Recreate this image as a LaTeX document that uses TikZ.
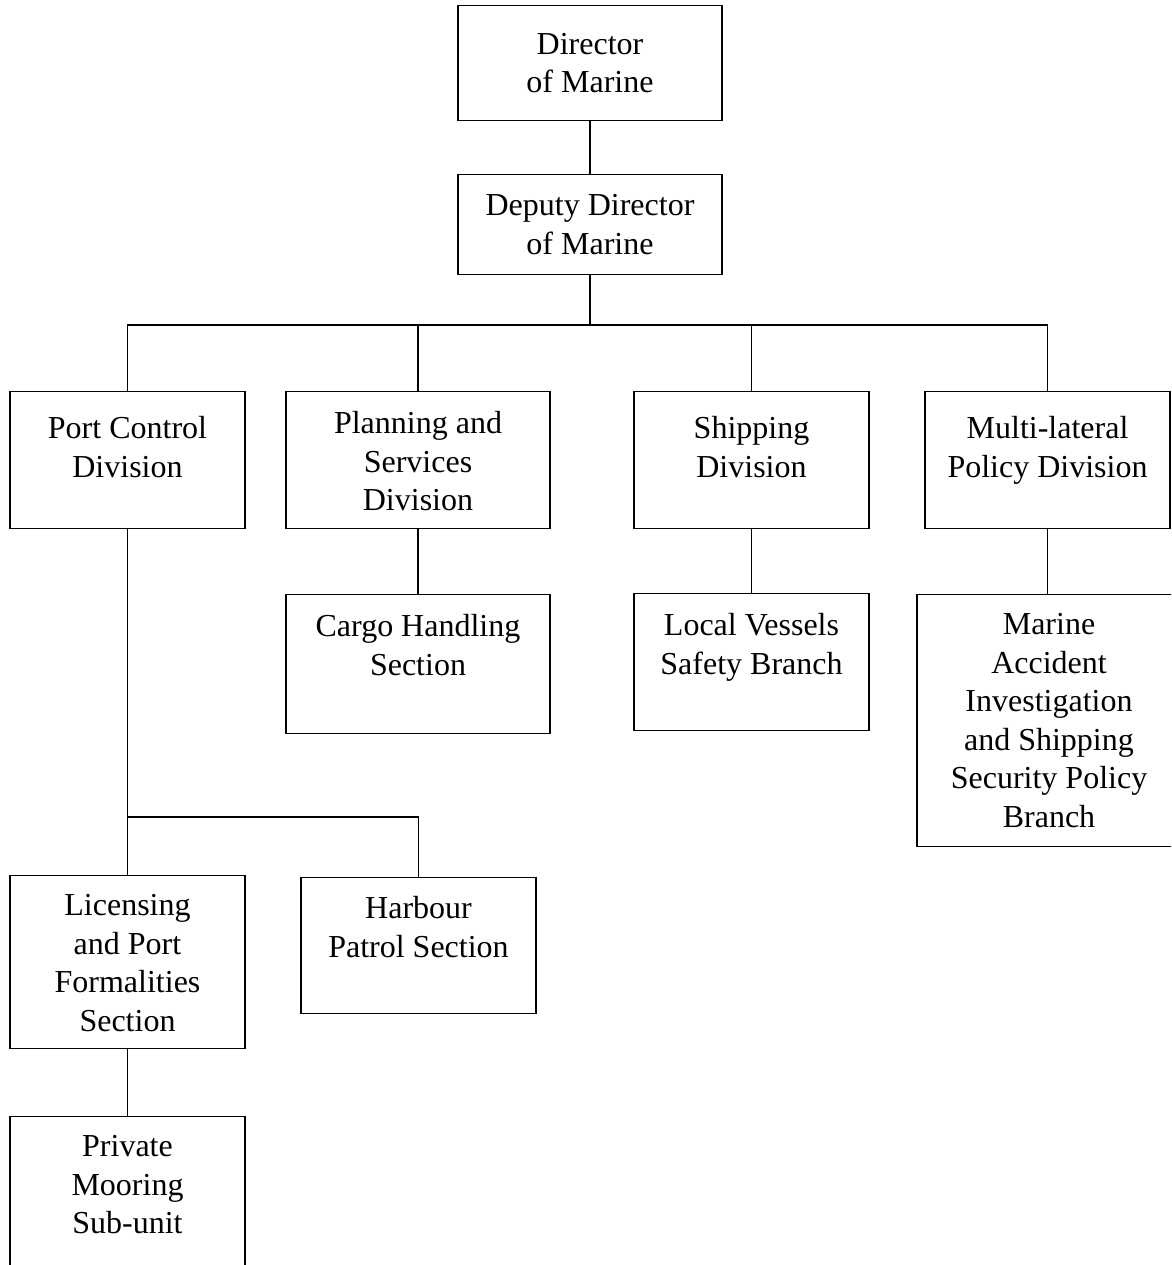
\documentclass[tikz,border=0pt]{standalone}
\usepackage{fontspec}
\setmainfont{Liberation Serif}
\usetikzlibrary{positioning}

\tikzset{
    orgbox/.style={draw, line width=1.2pt, anchor=north, inner sep=0pt, minimum width=235pt, minimum height=137pt},
    orgtext/.style={align=center, anchor=north, inner sep=0pt, yshift=#1},
    orgtext/.default=-20pt
}

\begin{document}
\begin{tikzpicture}[x=1pt, y=1pt, font=\fontsize{32}{38.5}\selectfont, line width=1.2pt]
    \clip (0,0) rectangle (1171,-1265);

    % top of the chart
    \node [orgbox, minimum width=264pt, minimum height=115pt, align=center] (director) at (590,-5) {Director\\of Marine};
    \node [orgbox, minimum width=264pt, minimum height=100pt, align=center, below=53pt of director.south, anchor=north] (deputy) {Deputy Director\\of Marine};

    % divisions
    \node [orgbox, label={[orgtext=-25pt]north:Port Control\\Division}] (portControl) at (127.5,-391) {};
    \node [orgbox, minimum width=264pt, label={[orgtext]north:Planning and\\Services\\Division}] (planning) at (418,-391) {};
    \node [orgbox, label={[orgtext=-25pt]north:Shipping\\Division}] (shipping) at (751.5,-391) {};
    \node [orgbox, minimum width=245pt, label={[orgtext=-25pt]north:Multi-lateral\\Policy Division}] (multiLateral) at (1047.5,-391) {};

    % sections and branches
    \node [orgbox, minimum width=264pt, minimum height=139pt, label={[orgtext]north:Cargo Handling\\Section}] (cargo) at (418,-594) {};
    \node [orgbox, label={[orgtext]north:Local Vessels\\Safety Branch}] (localVessels) at (751.5,-593) {};
    \node [orgbox, minimum width=264pt, minimum height=252pt, label={[orgtext=-19pt]north:Marine\\Accident\\Investigation\\and Shipping\\Security Policy\\Branch}] (marineAccident) at (1049,-594) {};
    \node [orgbox, minimum height=173pt, label={[orgtext=-19pt]north:Licensing\\and Port\\Formalities\\Section}] (licensing) at (127.5,-875) {};
    \node [orgbox, minimum height=136pt, label={[orgtext=-19pt]north:Harbour\\Patrol Section}] (harbour) at (418.5,-877) {};
    \node [orgbox, minimum height=190pt, label={[orgtext=-19pt]north:Private\\Mooring\\Sub-unit}] (privateMooring) at (127.5,-1116) {};

    \coordinate (mainBus) at (590,-325);
    \coordinate (portBus) at (127.5,-817);

    \draw (director) -- (deputy);
    \draw (deputy) -- (mainBus);
    \draw (portControl.north) |- (mainBus) -| (multiLateral.north);
    \draw (planning.north) -- (planning.north |- mainBus);
    \draw (shipping.north) -- (shipping.north |- mainBus);

    \draw (planning) -- (cargo);
    \draw (shipping) -- (localVessels);
    \draw (multiLateral.south) -- (multiLateral.south |- marineAccident.north);
    \draw (portControl) -- (licensing);
    \draw (portBus) -| (harbour.north);
    \draw (licensing) -- (privateMooring);
\end{tikzpicture}
\end{document}
